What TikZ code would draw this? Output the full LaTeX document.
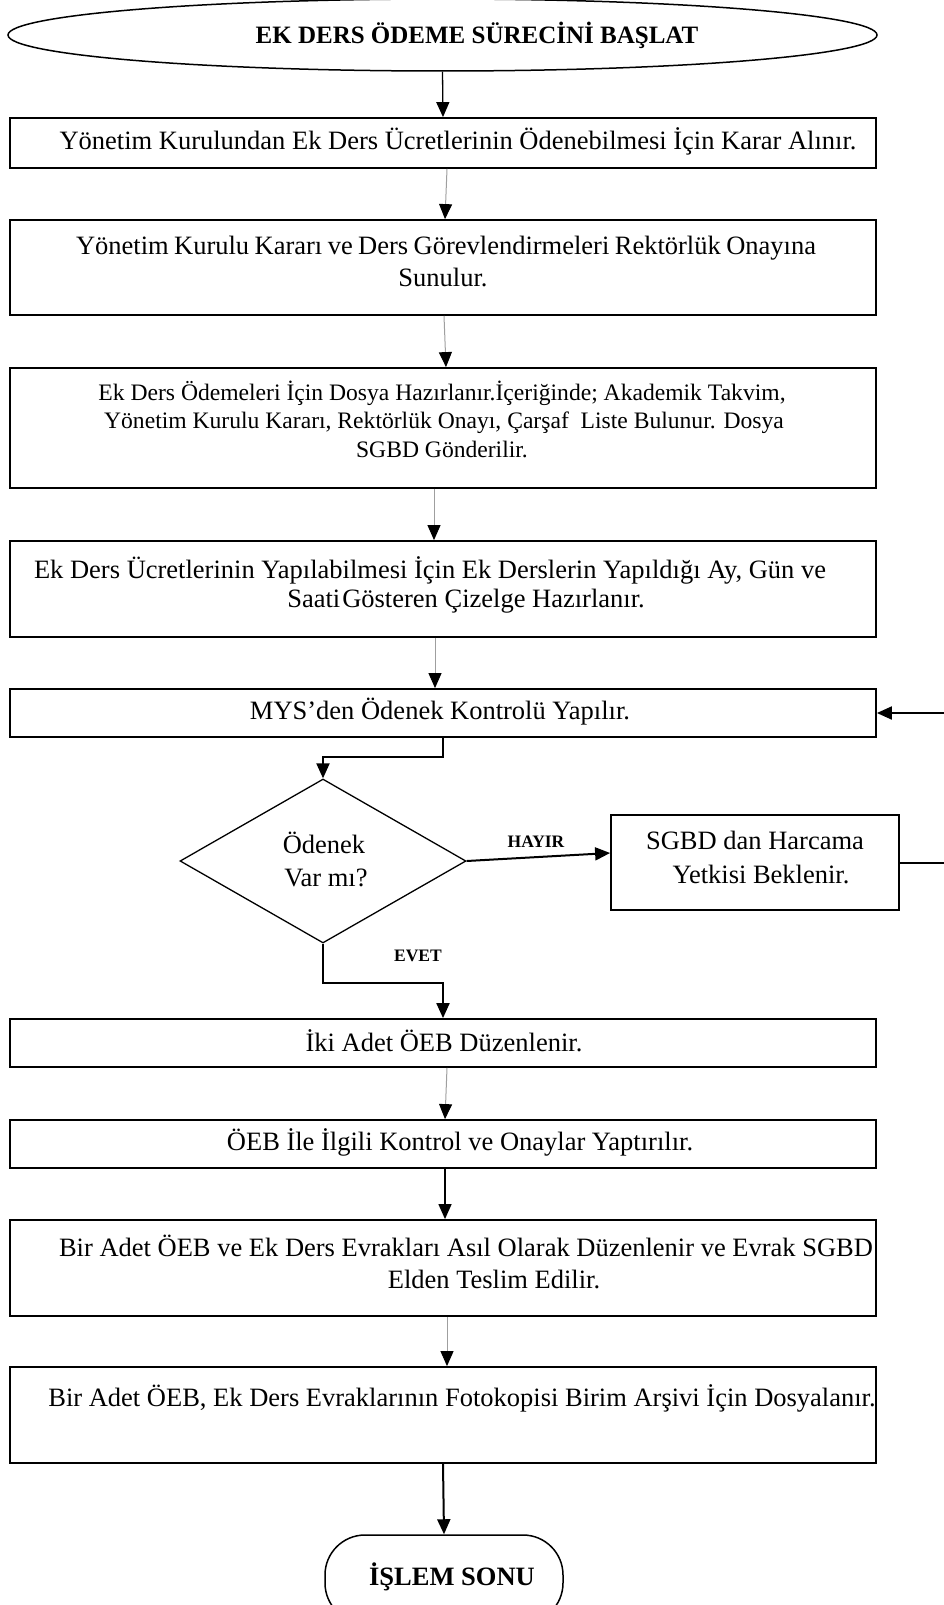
\documentclass[tikz,border=0pt]{standalone}
\usepackage{fontspec}
\setmainfont{Liberation Serif}
\usetikzlibrary{arrows.meta,shapes.geometric,calc}
\begin{document}
\begin{tikzpicture}[x=1pt,y=-1pt,
  boxst/.style={draw=black, line width=1.8pt, minimum width=866pt, inner sep=0pt},
  txt/.style={font=\fontsize{26.5}{30}\selectfont, inner sep=0pt, text height=17.5pt, text depth=5pt},
  smalltxt/.style={font=\fontsize{23.6}{28}\selectfont, inner sep=0pt, text height=16pt, text depth=5pt},
  lbl/.style={font=\bfseries\fontsize{17.5}{20}\selectfont, inner sep=0pt},
  garrow/.style={draw=gray!75, line width=1pt, -{Triangle[length=15pt,width=13pt,color=black]}},
  barrow/.style={draw=black, line width=1.3pt, -{Triangle[length=15pt,width=13pt]}},
  thickarrow/.style={draw=black, line width=2pt, -{Triangle[length=15pt,width=13pt]}}
]
\useasboundingbox (0,0) rectangle (944,1605);
\clip (0,0) rectangle (944,1605);

% shapes
\node[draw, ellipse, line width=1.5pt, minimum width=869pt, minimum height=72pt, inner sep=0pt] (start) at (442.5,35) {};
\node[boxst, minimum height=50pt] (b1) at (443,143) {};
\node[boxst, minimum height=95pt] (b2) at (443,267.5) {};
\node[boxst, minimum height=120pt] (b3) at (443,428) {};
\node[boxst, minimum height=96pt] (b4) at (443,589) {};
\node[boxst, minimum height=48pt] (mys) at (443,713) {};
\node[draw, diamond, line width=1.3pt, minimum width=286pt, minimum height=164pt, inner sep=0pt] (dec) at (323,861) {};
\node[draw, line width=1.8pt, minimum width=288pt, minimum height=95pt, inner sep=0pt] (sgbd) at (755,862.5) {};
\node[boxst, minimum height=48pt] (b6) at (443,1043) {};
\node[boxst, minimum height=48pt] (b7) at (443,1144) {};
\node[boxst, minimum height=96pt] (b8) at (443,1268) {};
\node[boxst, minimum height=96pt] (b9) at (443,1415) {};
\node[draw, rounded corners=40pt, line width=1.5pt, minimum width=238pt, minimum height=88pt, inner sep=0pt] (term) at (444,1579) {};

% texts
\node[font=\bfseries\fontsize{25}{28}\selectfont, inner sep=0pt] (title) at (477,35) {EK DERS ÖDEME SÜRECİNİ BAŞLAT};
\node[txt] (t1) at (458,143) {Yönetim Kurulundan Ek Ders Ücretlerinin Ödenebilmesi İçin Karar Alınır.};
\node[txt] (t2a) at (446,248) {\makebox[740pt][s]{Yönetim Kurulu Kararı ve Ders Görevlendirmeleri Rektörlük Onayına}};
\node[txt] (t2b) at (443,280) {Sunulur.};
\node[smalltxt] (t3a) at (442,395) {Ek Ders Ödemeleri İçin Dosya Hazırlanır.İçeriğinde; Akademik Takvim,};
\node[smalltxt] (t3b) at (444,423) {Yönetim Kurulu Kararı, Rektörlük Onayı, Çarşaf\ \ Liste Bulunur. Dosya};
\node[smalltxt] (t3c) at (442,452) {SGBD Gönderilir.};
\node[txt] (t4a) at (430,572) {Ek Ders Ücretlerinin Yapılabilmesi İçin Ek Derslerin Yapıldığı Ay, Gün ve};
\node[txt] (t4b) at (466,601) {Saati\hspace{2pt}Gösteren Çizelge Hazırlanır.};
\node[txt] (tm) at (440,713) {MYS’den Ödenek Kontrolü Yapılır.};
\node[txt] (td1) at (324,847) {Ödenek};
\node[txt] (td2) at (326,880) {Var mı?};
\node[txt] (ts1) at (755,843) {SGBD dan Harcama};
\node[txt] (ts2) at (761,877) {Yetkisi Beklenir.};
\node[lbl] (hayir) at (536,842) {HAYIR};
\node[lbl] (evet) at (418,956) {EVET};
\node[txt] (t6) at (444,1045) {İki Adet ÖEB Düzenlenir.};
\node[txt] (t7) at (460,1144) {ÖEB İle İlgili Kontrol ve Onaylar Yaptırılır.};
\node[txt] (t8a) at (466,1250) {Bir Adet ÖEB ve Ek Ders Evrakları Asıl Olarak Düzenlenir ve Evrak SGBD};
\node[txt] (t8b) at (494,1282) {Elden Teslim Edilir.};
\node[txt] (t9) at (462,1400) {Bir Adet ÖEB, Ek Ders Evraklarının Fotokopisi Birim Arşivi İçin Dosyalanır.};
\node[font=\bfseries\fontsize{26.5}{30}\selectfont, inner sep=0pt] (tterm) at (452,1577) {İŞLEM SONU};

% connectors
\draw[barrow] (start.south) -- (b1.north);
\draw[garrow] ($(b1.south)+(4,0)$) -- ($(b2.north)+(2,0)$);
\draw[garrow] ($(b2.south)+(1,0)$) -- ($(b3.north)+(3,0)$);
\draw[garrow] ($(b3.south)+(-9,0)$) -- ($(b4.north)+(-9,0)$);
\draw[garrow] ($(b4.south)+(-8,0)$) -- ($(mys.north)+(-8,0)$);
\draw[thickarrow] (mys.south) -- ++(0,19) -| (dec.north);
\draw[thickarrow] (dec.east) -- ($(sgbd.west)+(0,-9.5)$);
\draw[thickarrow] (sgbd.east) -- ++(70,0) |- (mys.east);
\draw[thickarrow] (dec.south) -- ++(0,39) -| (b6.north);
\draw[garrow] ($(b6.south)+(4,0)$) -- ($(b7.north)+(2,0)$);
\draw[barrow] ($(b7.south)+(2,0)$) -- ($(b8.north)+(2,0)$);
\draw[garrow] ($(b8.south)+(4,0)$) -- ($(b9.north)+(4,0)$);
\draw[thickarrow] (b9.south) -- (term.north);
\end{tikzpicture}
\end{document}
